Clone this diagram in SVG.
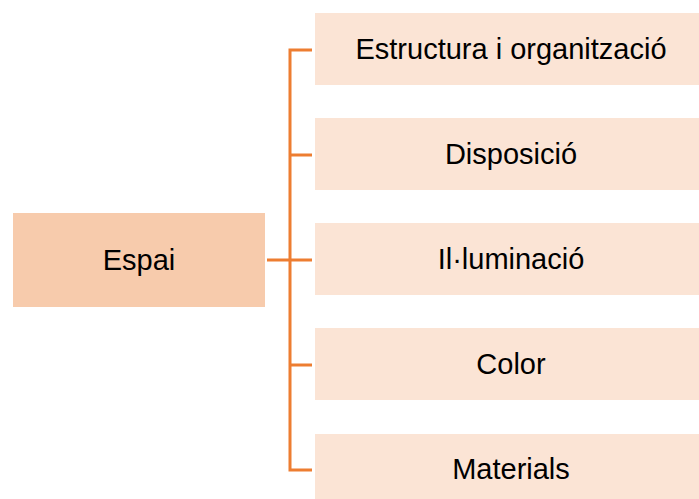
<svg xmlns="http://www.w3.org/2000/svg" width="699" height="499" viewBox="0 0 699 499">
<style>
.main{fill:#F7CBAC}
.sub{fill:#FBE4D5}
.t{font-family:"Liberation Sans",Arial,sans-serif;font-size:29px;fill:#000;text-anchor:middle;dominant-baseline:central}
.c{fill:none;stroke:#ED7D31;stroke-width:3}
</style>
<rect width="699" height="499" fill="#fff"/>
<g id="connectors">
<path class="c" d="M267 260H312"/>
<path class="c" d="M312 50H290V470H312"/>
<path class="c" d="M290 155H312"/>
<path class="c" d="M290 365H312"/>
</g>
<g id="espai"><rect class="main" x="13" y="213" width="252" height="94"/><text class="t" x="139" y="260">Espai</text></g>
<g id="n1"><rect class="sub" x="315" y="13" width="393" height="72"/><text class="t" x="511" y="49">Estructura i organització</text></g>
<g id="n2"><rect class="sub" x="315" y="118" width="393" height="72"/><text class="t" x="511" y="154">Disposició</text></g>
<g id="n3"><rect class="sub" x="315" y="223" width="393" height="72"/><text class="t" x="511" y="259">Il·luminació</text></g>
<g id="n4"><rect class="sub" x="315" y="328" width="393" height="72"/><text class="t" x="511" y="364">Color</text></g>
<g id="n5"><rect class="sub" x="315" y="434" width="393" height="72"/><text class="t" x="511" y="469">Materials</text></g>
</svg>
